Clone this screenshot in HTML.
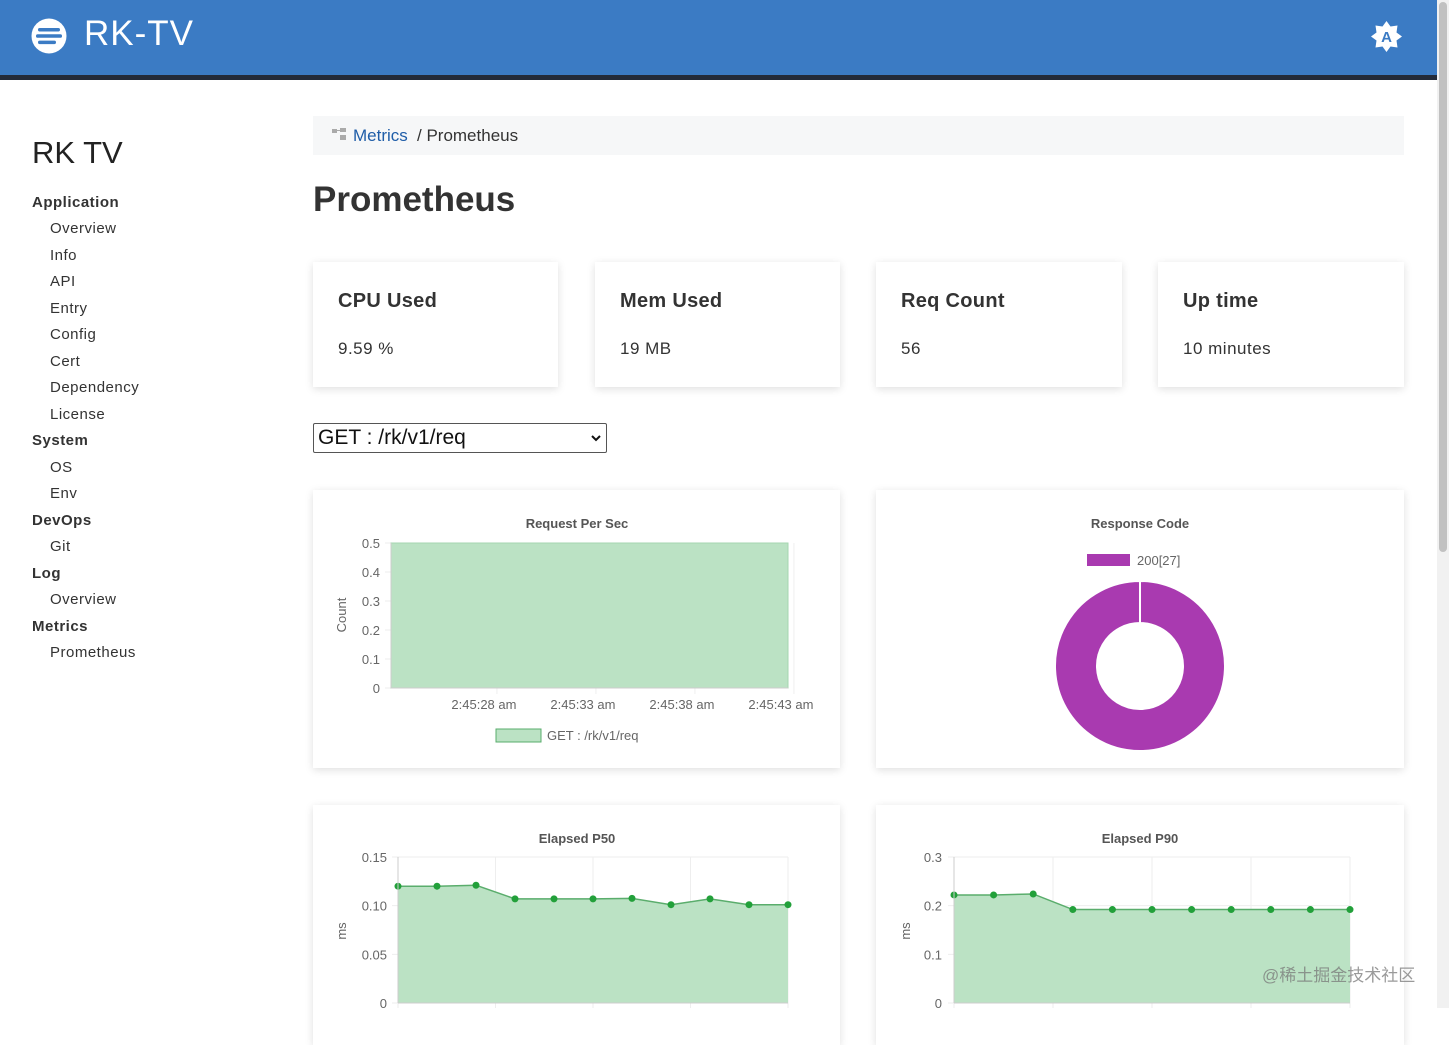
<!DOCTYPE html>
<html><head><meta charset="utf-8">
<style>
*{box-sizing:border-box;margin:0;padding:0}
body{width:1449px;height:1008px;overflow:hidden;background:#fff;font-family:"Liberation Sans","Noto Sans CJK SC",sans-serif;color:#333;position:relative}
.abs{position:absolute}
.header{left:0;top:0;width:1437px;height:75px;background:#3b7bc4}
.hbar{left:0;top:75px;width:1437px;height:5px;background:#232b3a}
.card{background:#fff;box-shadow:0 2px 8px rgba(0,0,0,0.13)}
.nav{position:absolute;font-size:15px;color:#333;letter-spacing:0.5px}
.nav.h{font-weight:bold;left:32px}
.nav.s{left:50px}
.stat-title{position:absolute;left:25px;top:28px;font-size:20px;font-weight:bold;color:#333;letter-spacing:0.3px}
.stat-val{position:absolute;left:25px;top:77px;font-size:17px;color:#333;letter-spacing:0.5px}
svg text{font-family:"Liberation Sans",sans-serif}
</style></head><body>
<div class="abs header">
  <svg class="abs" style="left:31px;top:18px" width="36" height="36"><circle cx="18" cy="18" r="17.5" fill="#fff"/><rect x="7" y="10" width="22" height="3.5" rx="1.7" fill="#3b7bc4"/><rect x="5" y="16.3" width="26" height="3.5" rx="1.7" fill="#3b7bc4"/><rect x="7" y="22.6" width="18" height="3.5" rx="1.7" fill="#3b7bc4"/></svg>
  <div class="abs" style="left:84px;top:14px;font-size:35px;color:#fff;letter-spacing:1px">RK-TV</div>
  <svg class="abs" style="left:1370px;top:20px" width="33" height="33"><polygon points="16.5,1 20.5,6.5 27.5,5.5 26.5,12.5 32,16.5 26.5,20.5 27.5,27.5 20.5,26.5 16.5,32 12.5,26.5 5.5,27.5 6.5,20.5 1,16.5 6.5,12.5 5.5,5.5 12.5,6.5" fill="#fff"/><text x="16.5" y="22" text-anchor="middle" font-size="15" font-weight="bold" fill="#3b7bc4">A</text></svg>
</div>
<div class="abs hbar"></div>
<div class="abs" style="left:1437px;top:0;width:12px;height:1008px;background:#f1f1f1"><div style="position:absolute;left:2px;top:2px;width:8px;height:550px;background:#c1c1c1;border-radius:4px"></div></div>

<div class="abs" style="left:32px;top:135px;font-size:31px;color:#222">RK TV</div>
<div class="nav h" style="top:194px">Application</div>
<div class="nav s" style="top:220px">Overview</div>
<div class="nav s" style="top:247px">Info</div>
<div class="nav s" style="top:273px">API</div>
<div class="nav s" style="top:300px">Entry</div>
<div class="nav s" style="top:326px">Config</div>
<div class="nav s" style="top:353px">Cert</div>
<div class="nav s" style="top:379px">Dependency</div>
<div class="nav s" style="top:406px">License</div>
<div class="nav h" style="top:432px">System</div>
<div class="nav s" style="top:459px">OS</div>
<div class="nav s" style="top:485px">Env</div>
<div class="nav h" style="top:512px">DevOps</div>
<div class="nav s" style="top:538px">Git</div>
<div class="nav h" style="top:565px">Log</div>
<div class="nav s" style="top:591px">Overview</div>
<div class="nav h" style="top:618px">Metrics</div>
<div class="nav s" style="top:644px">Prometheus</div>

<div class="abs" style="left:313px;top:116px;width:1091px;height:39px;background:#f6f7f8">
  <svg class="abs" style="left:19px;top:12px" width="15" height="13"><rect x="0" y="1" width="5" height="4" fill="#aaa"/><rect x="8" y="0" width="6" height="4" fill="#aaa"/><rect x="8" y="7" width="6" height="5" fill="#aaa"/><rect x="5" y="2" width="3" height="1" fill="#aaa"/></svg>
  <span class="abs" style="left:40px;top:10px;font-size:17px;color:#1f5da8">Metrics</span>
  <span class="abs" style="left:104px;top:10px;font-size:17px;color:#333">/ Prometheus</span>
</div>
<div class="abs" style="left:313px;top:180px;font-size:35px;font-weight:bold;color:#333">Prometheus</div>

<div class="abs card" style="left:313px;top:262px;width:245px;height:125px"><div class="stat-title">CPU Used</div><div class="stat-val">9.59 %</div></div>
<div class="abs card" style="left:595px;top:262px;width:245px;height:125px"><div class="stat-title">Mem Used</div><div class="stat-val">19 MB</div></div>
<div class="abs card" style="left:876px;top:262px;width:246px;height:125px"><div class="stat-title">Req Count</div><div class="stat-val">56</div></div>
<div class="abs card" style="left:1158px;top:262px;width:246px;height:125px"><div class="stat-title">Up time</div><div class="stat-val">10 minutes</div></div>

<div class="abs" style="left:313px;top:423px;width:294px;height:30px;border:1px solid #555;border-radius:2px;background:#fff">
  <span class="abs" style="left:4px;top:2px;font-size:21px;color:#111">GET : /rk/v1/req</span>
  <svg class="abs" style="left:277px;top:10px" width="10" height="8"><polyline points="1,2 5,6 9,2" fill="none" stroke="#111" stroke-width="2"/></svg>
</div>

<div class="abs card" style="left:313px;top:490px;width:527px;height:278px"></div>
<div class="abs card" style="left:876px;top:490px;width:528px;height:278px"></div>
<div class="abs card" style="left:313px;top:805px;width:527px;height:240px"></div>
<div class="abs card" style="left:876px;top:805px;width:528px;height:240px"></div>

<svg id="charts" class="abs" style="left:0;top:0" width="1437" height="1008"></svg>
<div class="abs" style="left:1262px;top:961px;font-size:17px;color:rgba(120,120,120,0.75)">@稀土掘金技术社区</div>

<script>
// Request per sec (time in seconds past 2:45:00)
const rpsTimes = [22.65, 27.7, 32.7, 37.7, 42.7];
const rpsValues = [0.5, 0.5, 0.5, 0.5, 0.5];
const rpsYTicks = [0, 0.1, 0.2, 0.3, 0.4, 0.5];
const rpsXTicks = [28, 33, 38, 43];
const rpsXLabels = ["2:45:28 am", "2:45:33 am", "2:45:38 am", "2:45:43 am"];
// Response code donut
const codeLabels = ["200[27]"];
const codeValues = [27];
// Elapsed P50 / P90
const p50Values = [0.12, 0.12, 0.121, 0.107, 0.107, 0.107, 0.1075, 0.101, 0.107, 0.101, 0.101];
const p50YTicks = [0, 0.05, 0.10, 0.15];
const p50YLabels = ["0", "0.05", "0.10", "0.15"];
const p90Values = [0.222, 0.222, 0.224, 0.192, 0.192, 0.192, 0.192, 0.192, 0.192, 0.192, 0.192];
const p90YTicks = [0, 0.1, 0.2, 0.3];
const p90YLabels = ["0", "0.1", "0.2", "0.3"];

const NS = "http://www.w3.org/2000/svg";
const svg = document.getElementById("charts");
function mk(tag, attrs, parent) {
  const e = document.createElementNS(NS, tag);
  for (const k in attrs) e.setAttribute(k, attrs[k]);
  (parent || svg).appendChild(e);
  return e;
}
function txt(x, y, s, attrs) {
  const t = mk("text", Object.assign({x: x, y: y, "font-size": 13, fill: "#666"}, attrs || {}));
  t.textContent = s;
  return t;
}
const fillC = "#bbe2c4", lineC = "#5aad6c", dotC = "#22a03a";

// ---- RPS chart
(function () {
  const x0 = 391, x1 = 788, y0 = 688, y1 = 543;
  const tMin = 22.65, tMax = 42.7, vMax = 0.5;
  const xs = t => x0 + (t - tMin) / (tMax - tMin) * (x1 - x0);
  const ys = v => y0 - v / vMax * (y0 - y1);
  const g = mk("g", {});
  
  
  const title = txt(577, 528, "Request Per Sec", {"text-anchor": "middle", "font-weight": "bold", fill: "#555"});
  
  
  rpsYTicks.forEach(v => {
    mk("line", {x1: x0 - 6, x2: x1, y1: ys(v), y2: ys(v), stroke: "#eee"}, g);
    const l = txt(380, ys(v) + 5, String(v), {"text-anchor": "end"});
    
    
  });
  rpsXTicks.forEach((t, i) => {
    mk("line", {x1: xs(t), x2: xs(t), y1: y1, y2: y0 + 6, stroke: "#eee"}, g);
    const l = txt(xs(t) - 13, 709, rpsXLabels[i], {"text-anchor": "middle"});
    
    
  });
  let d = "M" + xs(rpsTimes[0]) + "," + y0;
  rpsTimes.forEach((t, i) => d += " L" + xs(t) + "," + ys(rpsValues[i]));
  d += " L" + xs(rpsTimes[rpsTimes.length - 1]) + "," + y0 + " Z";
  const a = mk("path", {d: d, fill: fillC, stroke: "#a6d6b1"}, g);
  
  
  mk("line", {x1: x0, x2: x0, y1: y1, y2: y0, stroke: "#ccc"}, g);
  mk("line", {x1: x0, x2: x1, y1: y0, y2: y0, stroke: "#ccc"}, g);
  const yt = txt(0, 0, "Count", {transform: "translate(346,615) rotate(-90)", "text-anchor": "middle"});
  
  
  const sw = mk("rect", {x: 496, y: 729, width: 45, height: 13, fill: fillC, stroke: lineC});
  
  
  const lt = txt(547, 740, "GET : /rk/v1/req");
  
  
})();

// ---- Donut
(function () {
  const cx = 1140, cy = 666, R = 85, r = 43;
  const title = txt(1140, 528, "Response Code", {"text-anchor": "middle", "font-weight": "bold", fill: "#555"});
  
  
  const total = codeValues.reduce((a, b) => a + b, 0);
  let ang = -Math.PI / 2;
  codeValues.forEach((v, i) => {
    const frac = v / total;
    const a2 = ang + frac * 2 * Math.PI;
    let seg;
    if (frac >= 0.9999) {
      seg = mk("path", {d: `M${cx},${cy - R} A${R},${R} 0 1 1 ${cx - 0.01},${cy - R} L${cx - 0.01},${cy - r} A${r},${r} 0 1 0 ${cx},${cy - r} Z`, fill: "#a93ab0", stroke: "#fff", "stroke-width": 2});
    } else {
      const large = frac > 0.5 ? 1 : 0;
      const p = (rr, t) => (cx + rr * Math.cos(t)) + "," + (cy + rr * Math.sin(t));
      seg = mk("path", {d: `M${p(R, ang)} A${R},${R} 0 ${large} 1 ${p(R, a2)} L${p(r, a2)} A${r},${r} 0 ${large} 0 ${p(r, ang)} Z`, fill: "#a93ab0", stroke: "#fff", "stroke-width": 2});
    }
    
    
    ang = a2;
    const sw = mk("rect", {x: 1087, y: 554 + i * 18, width: 43, height: 12, fill: "#a93ab0"});
    
    
    const lt = txt(1137, 565 + i * 18, codeLabels[i]);
    
    
  });
})();

// ---- Line area charts
function lineChart(name, title, cxT, x0, x1, y0, y1, vMax, values, ticks, labels, labelX, axisX) {
  const n = values.length;
  const xs = i => x0 + i * (x1 - x0) / (n - 1);
  const ys = v => y0 - v / vMax * (y0 - y1);
  const t = txt(cxT, 843, title, {"text-anchor": "middle", "font-weight": "bold", fill: "#555"});
  
  
  ticks.forEach((v, i) => {
    mk("line", {x1: x0 - 6, x2: x1, y1: ys(v), y2: ys(v), stroke: "#eee"});
    const l = txt(labelX, ys(v) + 5, labels[i], {"text-anchor": "end"});
    
    
  });
  for (let k = 0; k < 5; k++) {
    const gx = x0 + k * (x1 - x0) / 4;
    mk("line", {x1: gx, x2: gx, y1: y1, y2: y0 + 6, stroke: "#eee"});
  }
  let d = "M" + xs(0) + "," + y0;
  values.forEach((v, i) => d += " L" + xs(i) + "," + ys(v));
  d += " L" + xs(n - 1) + "," + y0 + " Z";
  const a = mk("path", {d: d, fill: fillC});
  
  
  const ln = mk("polyline", {points: values.map((v, i) => xs(i) + "," + ys(v)).join(" "), fill: "none", stroke: lineC, "stroke-width": 1.5});
  
  
  values.forEach((v, i) => {
    const c = mk("circle", {cx: xs(i), cy: ys(v), r: 3.5, fill: dotC});
    
    
  });
  mk("line", {x1: x0, x2: x0, y1: y1, y2: y0, stroke: "#ccc"});
  mk("line", {x1: x0, x2: x1, y1: y0, y2: y0, stroke: "#ccc"});
  const yt = txt(0, 0, "ms", {transform: `translate(${axisX},931) rotate(-90)`, "text-anchor": "middle"});
  
  
}
lineChart("p50", "Elapsed P50", 577, 398, 788, 1003, 857, 0.15, p50Values, p50YTicks, p50YLabels, 387, 346);
lineChart("p90", "Elapsed P90", 1140, 954, 1350, 1003, 857, 0.3, p90Values, p90YTicks, p90YLabels, 942, 910);
</script>
</body></html>
